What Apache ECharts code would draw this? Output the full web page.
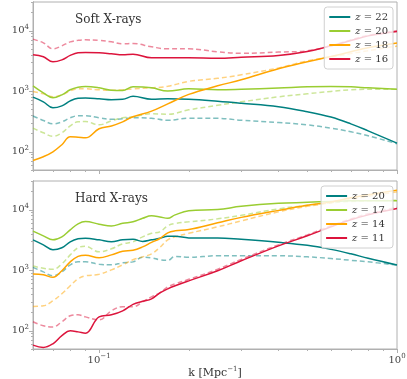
<!DOCTYPE html>
<html>
<head>
    <meta charset="utf-8">
    <title>X-ray power spectra</title>
    <script src="https://cdn.jsdelivr.net/npm/echarts@6/dist/echarts.min.js"></script>
    <style>
        html, body { margin: 0; padding: 0; background: #fff; }
        #chart { width: 407px; height: 379px; }
    </style>
</head>
<body>
<div id="chart"></div>
<script>
    // k values [Mpc^-1]
    var kSoft = [0.06, 0.065, 0.07, 0.075, 0.08, 0.085, 0.09, 0.1, 0.11, 0.12, 0.13, 0.15, 0.17, 0.2, 0.25, 0.3, 0.4, 0.5, 0.6, 0.7, 0.8, 1.0];
    var kHard = [0.06, 0.065, 0.07, 0.075, 0.08, 0.085, 0.09, 0.1, 0.11, 0.12, 0.13, 0.14, 0.15, 0.16, 0.17, 0.18, 0.2, 0.25, 0.3, 0.4, 0.5, 0.6, 0.7, 0.8, 1.0];

    // soft X-rays, solid lines
    var soft22 = [801, 670, 533, 575, 696, 765, 773, 751, 724, 737, 826, 737, 751, 737, 684, 634, 555, 459, 375, 290, 222, 139];
    var soft20 = [1233, 944, 782, 875, 1060, 1165, 1200, 1143, 1040, 1030, 1185, 1143, 1010, 1100, 1060, 1080, 1130, 1185, 1200, 1185, 1143, 1087];
    var soft18 = [72, 83, 100, 131, 177, 174, 170, 240, 268, 313, 379, 470, 620, 890, 1233, 1550, 2360, 3080, 3760, 4500, 5240, 6270];
    var soft16 = [4010, 3720, 3080, 3310, 3930, 4330, 4380, 4330, 4170, 4010, 4120, 3580, 3580, 3580, 3510, 3650, 3910, 4550, 5650, 6910, 8260, 9770];
    // soft X-rays, dashed lines
    var soft22d = [390, 330, 290, 313, 365, 394, 394, 365, 344, 351, 365, 358, 332, 358, 358, 332, 305, 279, 246, 214, 184, 136];
    var soft20d = [246, 206, 180, 206, 268, 313, 316, 279, 325, 365, 379, 425, 418, 494, 587, 670, 811, 910, 994, 1060, 1080, 1087];
    var soft18d = [994, 910, 811, 875, 1019, 1100, 1100, 1060, 1040, 1060, 1100, 1143, 1210, 1463, 1640, 1875, 2440, 3190, 3700, 4200, 4700, 5600];
    var soft16d = [7300, 6340, 5040, 5650, 6580, 6970, 7100, 6970, 6580, 6100, 6190, 5450, 5040, 5040, 4500, 4250, 4450, 4670, 5650, 7100, 8430, 10000];

    // hard X-rays, solid lines
    var hard20 = [3190, 2640, 2180, 2360, 2960, 3320, 3400, 3190, 2960, 3190, 3250, 3010, 3190, 3380, 3650, 3650, 3440, 3440, 3250, 2900, 2590, 2220, 1875, 1580, 1220];
    var hard17 = [4440, 3720, 3190, 3580, 4670, 5870, 6410, 5800, 5400, 6000, 6340, 7240, 7960, 7650, 7240, 8260, 9620, 10100, 11420, 12800, 13300, 13800, 14100, 14100, 14100];
    var hard14 = [870, 843, 765, 982, 1380, 1700, 1780, 1610, 1800, 2060, 2140, 2440, 2900, 3360, 4170, 4500, 4720, 6100, 7510, 9800, 11870, 13550, 15800, 17700, 21200];
    var hard11 = [58, 53, 61, 83, 100, 96, 91, 170, 184, 214, 274, 307, 338, 425, 494, 555, 670, 982, 1437, 2540, 3720, 5240, 6840, 8260, 10500];
    // hard X-rays, dashed lines
    var hard20d = [1120, 944, 811, 944, 1233, 1380, 1380, 1260, 1233, 1330, 1380, 1640, 1610, 1493, 1465, 1700, 1640, 1740, 1740, 1740, 1670, 1570, 1465, 1380, 1220];
    var hard17d = [1175, 1080, 1040, 1280, 1800, 2360, 2490, 2020, 2270, 2740, 2960, 3580, 4090, 4330, 5450, 5940, 6340, 7100, 8110, 10400, 11870, 13060, 13800, 14100, 14400];
    var hard14d = [253, 259, 313, 409, 555, 724, 811, 859, 1019, 1233, 1493, 1670, 1875, 2400, 3190, 3580, 4090, 5240, 6580, 9270, 11420, 13060, 14900, 16700, 19860];
    var hard11d = [141, 121, 116, 141, 177, 184, 170, 152, 214, 250, 250, 301, 365, 425, 533, 598, 710, 1040, 1520, 2640, 3860, 5450, 7100, 8590, 11000];

    // ticks
    var xMajor = [0.1, 1];
    var xMinor = [0.06, 0.07, 0.08, 0.09, 0.2, 0.3, 0.4, 0.5, 0.6, 0.7, 0.8, 0.9];
    var yMajor = [100, 1000, 10000];
    var yMinor = [50, 60, 70, 80, 90, 200, 300, 400, 500, 600, 700, 800, 900,
        2000, 3000, 4000, 5000, 6000, 7000, 8000, 9000, 20000, 30000];

    var colors = {teal: '#008080', green: '#9acd32', orange: '#ffa500', red: '#dc143c'};
    var gray = '#b0b0b0';
    var serif = 'DejaVu Serif';

    function zip(k, v) {
        return k.map(function (x, i) { return [x, v[i]]; });
    }

    function powLabel(v) {
        var e = Math.round(Math.log10(v));
        return '10{sup|' + (e < 0 ? '\u2212' + (-e) : e) + '}';
    }

    var supRich = {
        sup: {fontSize: 7, fontFamily: serif, color: '#444', padding: [0, 0, 7, 0]}
    };

    function xAxes(grid, showLabels) {
        var base = {
            type: 'log', gridIndex: grid, min: 0.06, max: 1, position: 'bottom',
            splitLine: {show: false},
            axisLine: {lineStyle: {color: gray}}
        };
        return [
            Object.assign({}, base, {
                axisTick: {customValues: xMajor, length: 4, lineStyle: {color: gray}},
                axisLabel: {show: showLabels, customValues: xMajor, formatter: powLabel,
                    fontFamily: serif, fontSize: 10, color: '#444', margin: 4, rich: supRich},
                name: showLabels ? 'k [Mpc{sup|\u22121}]' : '',
                nameLocation: 'middle', nameGap: 14,
                nameTextStyle: {fontFamily: serif, fontSize: 11, color: '#333', rich: supRich}
            }),
            Object.assign({}, base, {
                axisTick: {customValues: xMinor, length: 2, lineStyle: {color: gray}},
                axisLabel: {show: false}
            })
        ];
    }

    function yAxes(grid) {
        var base = {
            type: 'log', gridIndex: grid, min: 50, max: 30000, position: 'left',
            splitLine: {show: false},
            axisLine: {lineStyle: {color: gray}}
        };
        return [
            Object.assign({}, base, {
                axisTick: {customValues: yMajor, length: 4, lineStyle: {color: gray}},
                axisLabel: {customValues: yMajor, formatter: powLabel,
                    fontFamily: serif, fontSize: 10, color: '#444', margin: 4, rich: supRich},
                name: '\u0394{sup|2}[mK{sup|2}]',
                nameLocation: 'middle', nameGap: 16, nameRotate: 90,
                nameTextStyle: {fontFamily: serif, fontSize: 11, color: '#333', rich: supRich}
            }),
            Object.assign({}, base, {
                axisTick: {customValues: yMinor, length: 2, lineStyle: {color: gray}},
                axisLabel: {show: false}
            })
        ];
    }

    function line(name, k, v, color, grid, dashed) {
        return {
            name: name,
            type: 'line',
            xAxisIndex: grid * 2,
            yAxisIndex: grid * 2,
            data: zip(k, v),
            smooth: 0.4,
            symbol: 'none',
            z: dashed ? 2 : 3,
            lineStyle: {
                color: color,
                width: 1.5,
                type: dashed ? [5, 3] : 'solid',
                opacity: dashed ? 0.5 : 1
            },
            itemStyle: {color: color}
        };
    }

    function legend(top, names) {
        return {
            data: names,
            orient: 'vertical',
            right: 14,
            top: top,
            icon: 'rect',
            itemWidth: 21,
            itemHeight: 2,
            itemGap: 4,
            padding: [5, 5, 5, 5],
            borderColor: '#d0d0d0',
            borderWidth: 1,
            borderRadius: 3,
            backgroundColor: 'rgba(255,255,255,0.8)',
            textStyle: {fontFamily: serif, fontSize: 10, color: '#333',
                rich: {i: {fontFamily: serif, fontSize: 10, fontStyle: 'italic', color: '#333'}}},
            formatter: function (name) {
                return '{i|z}' + name.slice(1);
            }
        };
    }

    var chart = echarts.init(document.getElementById('chart'));

    var option = {
        animation: false,
        title: [
            {text: 'Soft X-rays', left: 70, top: 9,
                textStyle: {fontFamily: serif, fontSize: 12, fontWeight: 'normal', color: '#333'}},
            {text: 'Hard X-rays', left: 70, top: 188,
                textStyle: {fontFamily: serif, fontSize: 12, fontWeight: 'normal', color: '#333'}}
        ],
        grid: [
            {left: 33, top: 2, width: 364, height: 168, show: true, borderColor: gray, borderWidth: 1, outerBoundsMode: 'none'},
            {left: 33, top: 181, width: 364, height: 168, show: true, borderColor: gray, borderWidth: 1, outerBoundsMode: 'none'}
        ],
        legend: [
            legend(7, ['z = 22', 'z = 20', 'z = 18', 'z = 16']),
            legend(186, ['z = 20 ', 'z = 17', 'z = 14', 'z = 11'])
        ],
        xAxis: xAxes(0, false).concat(xAxes(1, true)),
        yAxis: yAxes(0).concat(yAxes(1)),
        series: [
            line('z = 22', kSoft, soft22, colors.teal, 0, false),
            line('z = 20', kSoft, soft20, colors.green, 0, false),
            line('z = 18', kSoft, soft18, colors.orange, 0, false),
            line('z = 16', kSoft, soft16, colors.red, 0, false),
            line('soft 22 dashed', kSoft, soft22d, colors.teal, 0, true),
            line('soft 20 dashed', kSoft, soft20d, colors.green, 0, true),
            line('soft 18 dashed', kSoft, soft18d, colors.orange, 0, true),
            line('soft 16 dashed', kSoft, soft16d, colors.red, 0, true),

            line('z = 20 ', kHard, hard20, colors.teal, 1, false),
            line('z = 17', kHard, hard17, colors.green, 1, false),
            line('z = 14', kHard, hard14, colors.orange, 1, false),
            line('z = 11', kHard, hard11, colors.red, 1, false),
            line('hard 20 dashed', kHard, hard20d, colors.teal, 1, true),
            line('hard 17 dashed', kHard, hard17d, colors.green, 1, true),
            line('hard 14 dashed', kHard, hard14d, colors.orange, 1, true),
            line('hard 11 dashed', kHard, hard11d, colors.red, 1, true)
        ]
    };
    chart.setOption(option);
</script>
</body>
</html>
